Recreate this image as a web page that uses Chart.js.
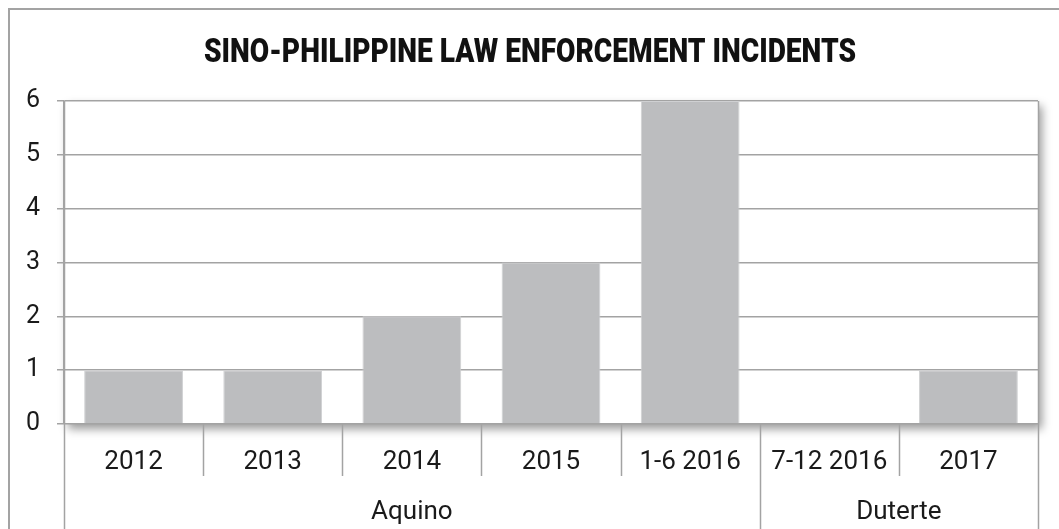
<!DOCTYPE html>
<html>
<head>
<meta charset="utf-8">
<script src="https://cdn.jsdelivr.net/npm/chart.js@4"></script>
<style>
  html, body { margin: 0; padding: 0; background: #fff; }
  #wrap { width: 1059px; height: 529px; }
</style>
</head>
<body>
<div id="wrap"><canvas id="myChart" width="1059" height="529"></canvas></div>
<script>
const chartTitle = 'SINO-PHILIPPINE LAW ENFORCEMENT INCIDENTS';
const periods = ['2012', '2013', '2014', '2015', '1-6 2016', '7-12 2016', '2017'];
const incidents = [1, 1, 2, 3, 6, 0, 1];
const presidents = ['Aquino', 'Duterte'];
// first and last period index of each term
const presidentSpans = [[0, 4], [5, 6]];
const yMin = 0;
const yMax = 6;
const yStep = 1;

const lineColor = '#a3a3a3';

// frame, shadow, category separators and the condensed title
const decorations = {
  id: 'decorations',
  beforeDraw(chart) {
    const { ctx, chartArea } = chart;
    ctx.save();
    ctx.strokeStyle = lineColor;
    ctx.lineWidth = 2;
    ctx.beginPath();
    ctx.moveTo(9, chart.height);
    ctx.lineTo(9, 9);
    ctx.lineTo(chart.width, 9);
    ctx.stroke();

    ctx.shadowColor = 'rgba(0, 0, 0, 0.4)';
    ctx.shadowBlur = 9;
    ctx.shadowOffsetX = 4;
    ctx.shadowOffsetY = 5;
    ctx.fillStyle = '#fff';
    ctx.fillRect(chartArea.left, chartArea.top, chartArea.right - chartArea.left, chartArea.bottom - chartArea.top);
    ctx.restore();
  },
  afterDraw(chart) {
    const { ctx, chartArea } = chart;
    const x = chart.scales.x;
    const groupEdges = [];
    presidentSpans.forEach((span) => {
      groupEdges.push(span[0] - 0.5, span[1] + 0.5);
    });
    ctx.save();
    ctx.strokeStyle = lineColor;
    ctx.lineWidth = 1.5;
    ctx.beginPath();
    for (let i = 0; i <= periods.length; i += 1) {
      const px = Math.round(x.getPixelForValue(i - 0.5)) + 0.5;
      if (i === 0 || i === periods.length) {
        // plot frame sides run down through both label rows
        ctx.moveTo(px, chartArea.top);
        ctx.lineTo(px, chart.height);
      } else if (groupEdges.includes(i - 0.5)) {
        ctx.moveTo(px, chartArea.bottom);
        ctx.lineTo(px, chart.height);
      } else {
        ctx.moveTo(px, chartArea.bottom);
        ctx.lineTo(px, x.bottom);
      }
    }
    ctx.stroke();

    ctx.fillStyle = '#111';
    ctx.font = '900 34px Roboto';
    ctx.textAlign = 'center';
    ctx.textBaseline = 'alphabetic';
    const w = ctx.measureText(chartTitle).width;
    ctx.translate(530, 62);
    ctx.scale(652 / w, 1);
    ctx.fillText(chartTitle, 0, 0);
    ctx.restore();
  },
};

const myChartRef = document.getElementById('myChart').getContext('2d');
const barChart = new Chart(myChartRef, {
  type: 'bar',
  data: {
    labels: periods,
    datasets: [{
      label: 'Incidents',
      data: incidents,
      backgroundColor: '#bcbdbf',
      borderColor: '#cfd0d2',
      borderWidth: 1,
      barPercentage: 0.71,
      categoryPercentage: 1,
    }],
  },
  options: {
    animation: false,
    responsive: false,
    layout: {
      padding: { top: 101, right: 21, left: 0, bottom: 0 },
    },
    plugins: {
      legend: { display: false },
      title: { display: false },
      tooltip: { enabled: false },
    },
    scales: {
      y: {
        min: yMin,
        max: yMax,
        ticks: {
          stepSize: yStep,
          padding: 17,
          color: '#1a1a1a',
          font: { family: 'Roboto', size: 25 },
        },
        grid: {
          color: lineColor,
          lineWidth: 1.5,
          tickLength: 7,
        },
        border: { display: true, color: lineColor, width: 1.5 },
        afterFit(scale) { scale.width = 64; },
      },
      x: {
        weight: 0,
        ticks: {
          padding: 23,
          color: '#1a1a1a',
          font: { family: 'Roboto', size: 26 },
          maxRotation: 0,
          autoSkip: false,
        },
        grid: { display: false, drawTicks: false },
        border: { display: false },
        afterFit(scale) { scale.height = 52; },
      },
      x2: {
        type: 'linear',
        position: 'bottom',
        weight: 1,
        offset: false,
        min: -0.5,
        max: periods.length - 0.5,
        afterBuildTicks(scale) {
          scale.ticks = presidentSpans.map((span) => ({ value: (span[0] + span[1]) / 2 }));
        },
        ticks: {
          padding: 21,
          color: '#1a1a1a',
          font: { family: 'Roboto', size: 26 },
          maxRotation: 0,
          autoSkip: false,
          callback(value, index) { return presidents[index]; },
        },
        grid: { display: false, drawTicks: false, offset: false },
        border: { display: false },
        afterFit(scale) { scale.height = 53; },
      },
    },
  },
  plugins: [decorations],
});
</script>
</body>
</html>
